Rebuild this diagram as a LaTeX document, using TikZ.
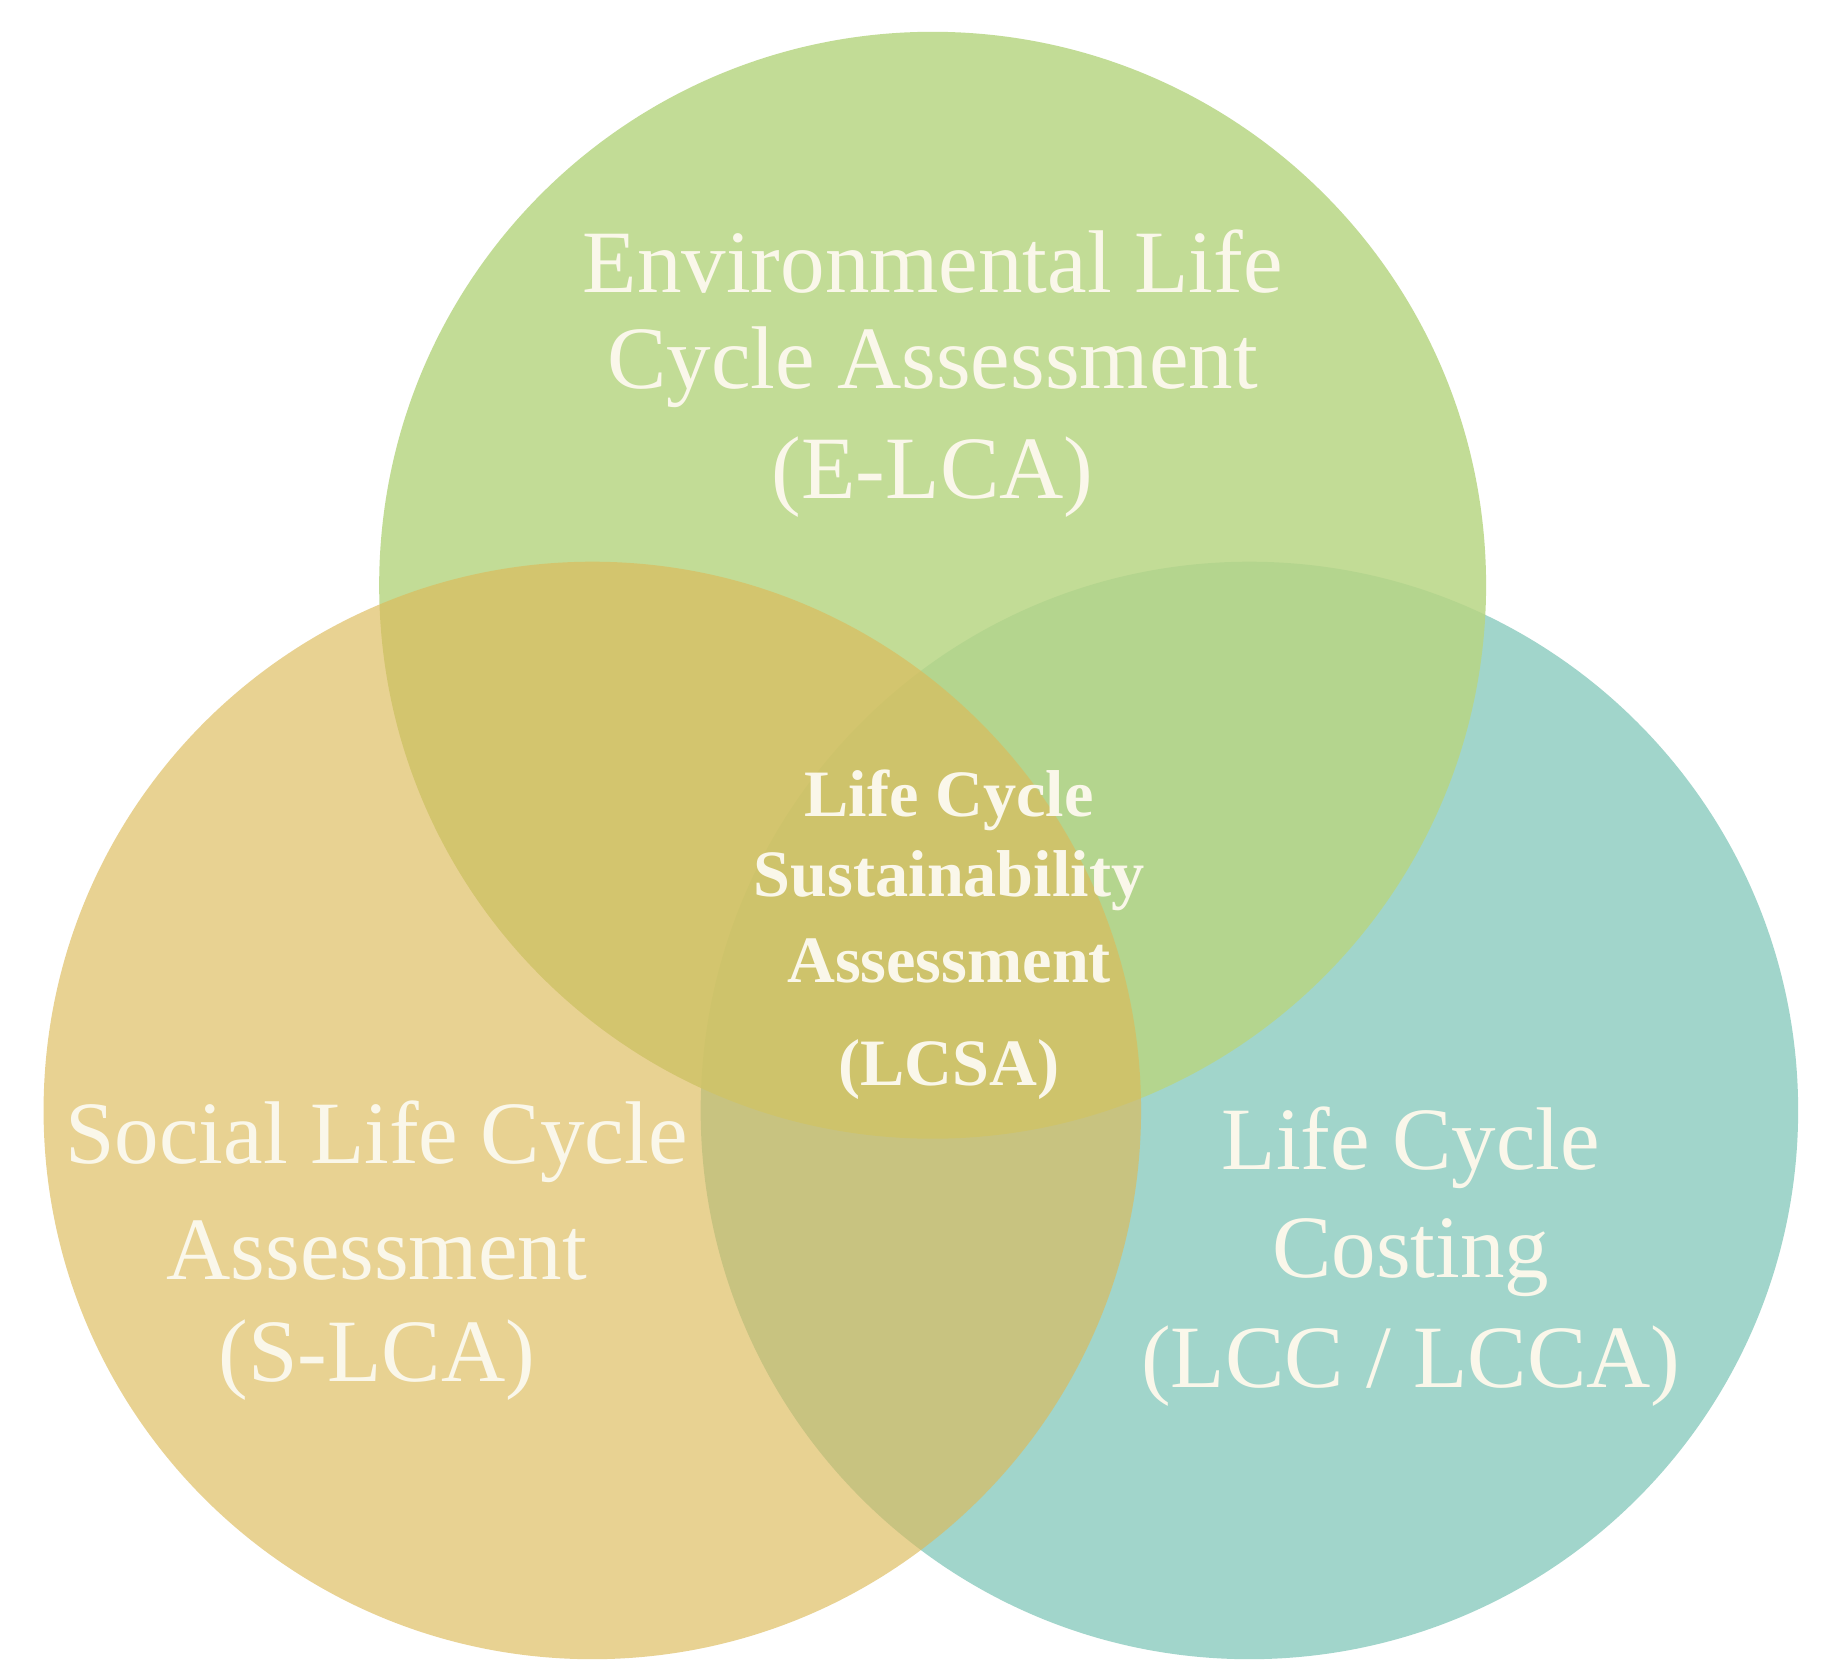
\documentclass[tikz,border=0pt]{standalone}
\usepackage{fontspec}
\setmainfont{Liberation Serif}
\definecolor{cgreen}{HTML}{B8D684}
\definecolor{corange}{HTML}{DDBA59}
\definecolor{cteal}{HTML}{A1D5CB}
\definecolor{ctext}{HTML}{FAF7EA}
\begin{document}
\begin{tikzpicture}[x=0.01cm,y=-0.01cm,
  big/.style={text=ctext,font=\fontsize{21.5}{25}\selectfont,align=center,inner sep=0},
  small/.style={text=ctext,font=\bfseries\fontsize{16}{19}\selectfont,align=center,inner sep=0}]
\useasboundingbox (0,0) rectangle (1560,1418);
\fill[white] (0,0) rectangle (1560,1418);
\fill[cteal] (1061,943) circle (466);
\fill[cgreen,fill opacity=0.85] (792,497) circle (470);
\fill[corange,fill opacity=0.65] (503,943) circle (466);
\node[big] (e1) at (792,222) {Environmental Life};
\node[big] (e2) at (792,312) {Cycle Assessment};
\node[big] (e3) at (792,405) {(E-LCA)};
\node[big] (s1) at (320,970) {Social Life Cycle};
\node[big] (s2) at (320,1062) {Assessment};
\node[big] (s3) at (320,1155) {(S-LCA)};
\node[big] (l1) at (1198,975) {Life Cycle};
\node[big] (l2) at (1198,1068) {Costing};
\node[big] (l3) at (1198,1160) {(LCC / LCCA)};
\node[small] (c1) at (806,680) {Life Cycle};
\node[small] (c2) at (806,748) {Sustainability};
\node[small] (c3) at (806,816) {Assessment};
\node[small] (c4) at (806,908) {(LCSA)};
\end{tikzpicture}
\end{document}
